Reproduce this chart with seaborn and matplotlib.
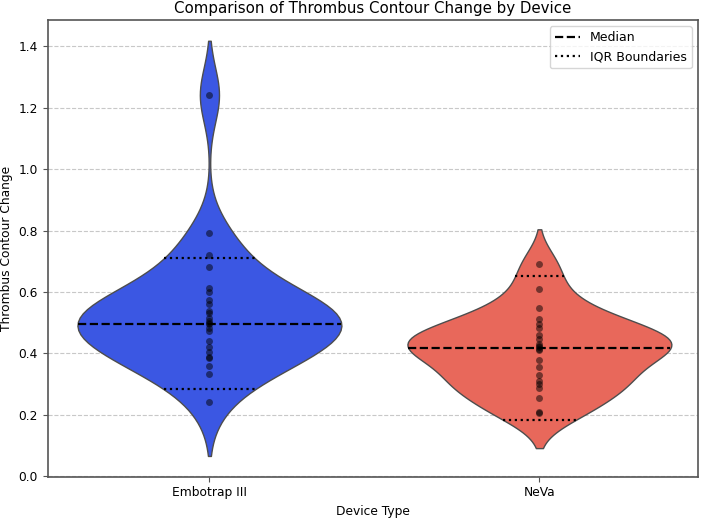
import numpy as np
import pandas as pd
import matplotlib
matplotlib.use("Agg")
import matplotlib.pyplot as plt
import seaborn as sns
from matplotlib.lines import Line2D

devices = ["Embotrap III", "NeVa"]
embotrap_values = [1.242, 0.791, 0.719, 0.680, 0.612, 0.599, 0.573, 0.560, 0.537,
                   0.530, 0.515, 0.506, 0.500, 0.495, 0.484, 0.472, 0.439, 0.420,
                   0.403, 0.388, 0.383, 0.357, 0.333, 0.242]
neva_values = [0.691, 0.609, 0.547, 0.512, 0.497, 0.483, 0.461, 0.446, 0.431,
               0.425, 0.420, 0.415, 0.412, 0.377, 0.355, 0.328, 0.309, 0.300,
               0.286, 0.255, 0.210, 0.204]
medians = [0.495, 0.417]
iqr_lower = [0.282, 0.183]
iqr_upper = [0.710, 0.652]
colors = ["#3b57e3", "#e8685b"]

df = pd.DataFrame({
    "Device Type": [devices[0]] * len(embotrap_values) + [devices[1]] * len(neva_values),
    "Thrombus Contour Change": embotrap_values + neva_values,
})

plt.rcParams['font.family'] = ['DejaVu Sans']
fig = plt.figure(figsize=(7.02, 5.18), dpi=100)
ax = fig.add_axes([0.068, 0.0797, 0.926, 0.8817])
ax.set_axisbelow(True)
ax.grid(axis='y', linestyle='--', color='#c8c8c8', lw=0.8)
ax.grid(axis='x', color='#d9d9d9', lw=0.8)

sns.violinplot(data=df, x="Device Type", y="Thrombus Contour Change",
               hue="Device Type", palette=colors, order=devices, hue_order=devices,
               inner=None, density_norm="width", saturation=1, bw_adjust=0.85,
               linecolor="#4d4d4d", linewidth=1.0, legend=False, ax=ax)
polys = list(ax.collections)

sns.stripplot(data=df, x="Device Type", y="Thrombus Contour Change", order=devices,
              color="black", alpha=0.5, jitter=False, size=5, ax=ax)


def span_at(poly, y, center):
    v = poly.get_paths()[0].vertices
    left = v[v[:, 0] < center - 1e-9]
    right = v[v[:, 0] > center + 1e-9]
    lo = left[np.argsort(left[:, 1])]
    ro = right[np.argsort(right[:, 1])]
    xl = np.interp(y, lo[:, 1], lo[:, 0])
    xr = np.interp(y, ro[:, 1], ro[:, 0])
    return xl, xr


for i, poly in enumerate(polys):
    xl, xr = span_at(poly, medians[i], i)
    ax.hlines(medians[i], xl, xr, colors='black', linestyles='--', lw=1.6, zorder=5)
    for q in (iqr_lower[i], iqr_upper[i]):
        xl, xr = span_at(poly, q, i)
        ax.hlines(q, xl, xr, colors='black', linestyles=':', lw=1.6, zorder=5)

handles = [Line2D([0], [0], color='black', ls='--', lw=1.6, label='Median'),
           Line2D([0], [0], color='black', ls=':', lw=1.6, label='IQR Boundaries')]
ax.legend(handles=handles, loc='upper right', fontsize=9)

ax.set_xlim(-0.49, 1.48)
ax.set_title("Comparison of Thrombus Contour Change by Device", fontsize=10.8, pad=5)
ax.set_xlabel("Device Type", fontsize=8.8)
ax.set_ylabel("Thrombus Contour Change", fontsize=8.8)
ax.tick_params(labelsize=8.8, color='#555555', length=3.5)
for s in ax.spines.values():
    s.set_color('#555555')
    s.set_linewidth(1.2)

fig.savefig("out.png", dpi=100)
